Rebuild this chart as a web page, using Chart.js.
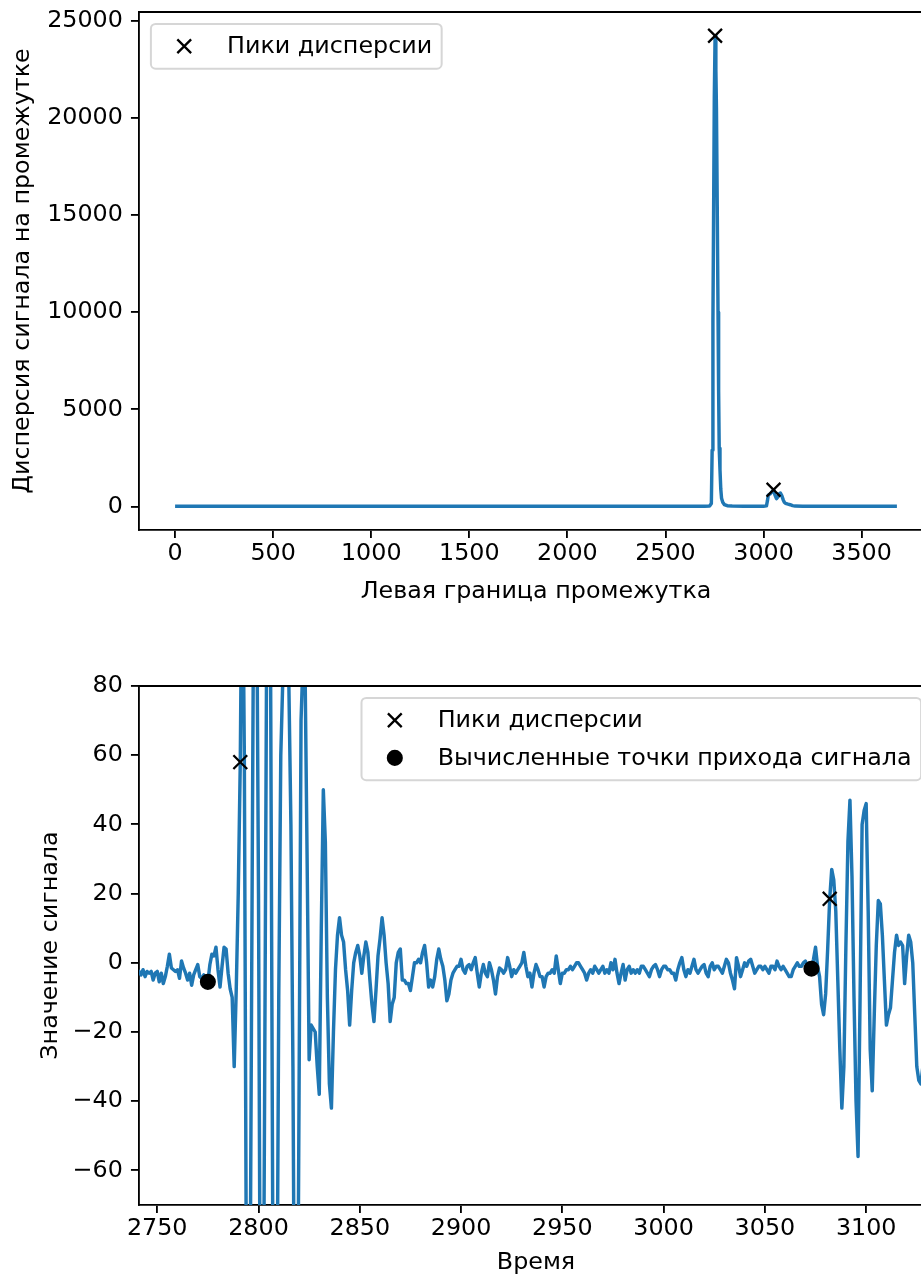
<!DOCTYPE html>
<html>
<head>
<meta charset="utf-8">
<script src="https://cdn.jsdelivr.net/npm/chart.js@4.4.1/dist/chart.umd.min.js"></script>
<style>
    html, body { margin: 0; padding: 0; background: #fff; }
    #page { position: relative; width: 921px; height: 1276px; overflow: hidden; background: #fff; }
    #page canvas { position: absolute; left: 0; display: block; }
    #varChart { top: 0; }
    #sigChart { top: 640px; }
</style>
</head>
<body>
<div id="page">
    <canvas id="varChart" width="940" height="640"></canvas>
    <canvas id="sigChart" width="940" height="640"></canvas>
</div>
<script>
"use strict"

// ---- top: variance of the signal over a sliding window ----
const varX = [0, 200, 400, 600, 800, 1000, 1200, 1400, 1600, 1800, 2000, 2200, 2400, 2600, 2700,
    2725, 2734, 2738, 2742, 2746, 2749, 2753, 2757, 2760, 2764, 2768, 2771, 2774, 2778, 2782, 2786,
    2792, 2800, 2815, 2840, 2900, 2950, 3000,
    3015, 3020, 3024, 3034, 3044, 3051, 3058, 3066, 3072, 3080, 3086, 3093, 3100, 3106, 3112, 3125,
    3136, 3148, 3161, 3200, 3300, 3450, 3600, 3680]
const varY = [12, 10, 14, 11, 13, 9, 12, 15, 10, 13, 11, 14, 12, 10, 15,
    20, 150, 2900, 9500, 16000, 21000, 24240, 22500, 20500, 15500, 10000, 6000, 3000, 1900, 900, 420,
    220, 100, 40, 25, 15, 12, 14,
    30, 300, 580, 650, 760, 860, 600, 400, 480, 650, 690, 560, 350, 220, 160, 120,
    90, 45, 20, 12, 10, 13, 11, 12]
const varPeakX = [2753, 3051]
const varPeakY = [24240, 860]
const varTicksX = [0, 500, 1000, 1500, 2000, 2500, 3000, 3500]
const varTicksY = [0, 5000, 10000, 15000, 20000, 25000]

// ---- bottom: the signal itself, one value per time step starting at sigStart ----
const sigStart = 2740
const sigY = [
    -3, -2.5, -3.5, -2, -4, -2.5, -3, -2.5, -5, -3,
    -2.5, -5.5, -3, -6, -4, -1, 2.5, -1.5, -2, -2.5,
    -2, -4.5, 0.5, -1.5, -3, -5, -3, -6.5, -3.5, -2,
    -0.5, -4, -4.5, -3.5, -6, -5.5, -0.5, 2.5, 2, 4.5,
    -2, -7, -1, 4.5, 4, -3, -7.5, -10, -30, -8,
    20, 58, 130, 60, -90, -150, -80, 40, 150, 120,
    20, -130, -160, -40, 90, 160, 80, -70, -170, -120,
    -10, 60, 82, 92, 90, 80, 40, -30, -140, -150,
    -40, 70, 88, 84, 30, -28, -18, -19, -20, -30,
    -38, 10, 50, 35, -10, -35, -42, -20, -2, 8,
    13, 8, 6, -2, -8, -18, -8, 0, 3, 5,
    2, -3, 2, 6, 3, -5, -12, -17, -8, 2,
    7, 13, 8, 0, -6, -17, -12, -10, 0, 3,
    4, -5, -5, -6, -6, -8, -4, 0, 0, 1,
    0, 3, 5, 0, -7, -5, -7, -4, 1, 4,
    1, -1, -5, -11, -9, -5, -3, -2, -1, -1,
    1, -2, -3, -1, -0.5, -2, 0, 1.5, -3, -7,
    -3, -0.5, -3, -4, 0, -2, -5, -9, -4, -1.5,
    -2, -3, -2, 1.5, -1, -4, -2, -3, -2, -1,
    0, 3, -1, -4, -3, -7, -3, -0.5, -2, -4,
    -4, -7, -4, -3, -3, -2, -3, 2, -2, -6,
    -3, -3, -2, -2, -1, -2, -1, 0, 0, -1,
    -2, -3, -5, -3, -2, -3, -1, -2, -3, -2,
    -1, -3, -2, -3, 0, -2, 1, -3, -6, -3,
    -0.5, -5, -2, -1, -3, -2, -3, -2, -3, -1,
    -1, -2, -3, -4, -2, -1, -0.5, -2, -4, -2,
    -1, -1, -2, -2, -3, -3, -5, -2, 0, 1.5,
    -2, -4, -2, -3, -1, 1, -2, -3, -2, -1,
    -0.5, -3, -4, -1, 0, -2, -1, -1, -2, -3,
    -1, 1, 0, -3, -5, -7.5, 1.5, -1, -4, -2,
    0, -1, 0.5, 1, -1, -3, -2, -1, -1, -2,
    -1, -2, -3, -1, -1, -2, 0.5, -1, -2, -1,
    -2, -3, -4, -4, -2, -1, 0, -1, -1, 0,
    0.5, -1, -1.5, -1.7, 1, 4.5, -1, -4, -12, -15,
    -9, 4, 18.5, 27, 24, 15, -5, -25, -42, -30,
    5, 35, 47, 25, -10, -40, -56, -10, 40, 44,
    46, 15, -25, -37, -15, 5, 18, 17, 8, -5,
    -18, -15, -13, -5, 3, 8, 5, 6, 5, -6,
    2, 8, 6, 0, -15, -30, -34, -35, -30, -22,
    -10, 2, 8, 5
]
const sigPeakX = [2791, 3082]
const sigPeakY = [58, 18.5]
const arrivalX = [2775, 3073]
const arrivalY = [-5.5, -1.7]
const sigTicksX = [2750, 2800, 2850, 2900, 2950, 3000, 3050, 3100]
const sigTicksY = [-60, -40, -20, 0, 20, 40, 60, 80]

// ---- look ----
const PT = 2.3            // pixels per typographic point in the reference
const BLUE = '#1f77b4'
const FONT = { family: 'DejaVu Sans', size: 23.8 }
const AXIS_LEFT = 139

Chart.defaults.font.family = FONT.family
Chart.defaults.color = '#000'

function toPoints(xs, ys) {
    return xs.map((x, i) => ({ x: x, y: ys[i] }))
}

function fmt(v) {
    return String(v).replace('-', '\u2212')
}

function xScale(min, max, ticks, title, height, titlePad) {
    return {
        type: 'linear',
        min: min,
        max: max,
        afterBuildTicks: s => { s.ticks = ticks.map(v => ({ value: v })) },
        afterFit: s => { s.height = height; s.paddingLeft = 0; s.paddingRight = 0 },
        ticks: { font: FONT, color: '#000', padding: 1.5, maxRotation: 0, autoSkip: false, callback: fmt },
        grid: { drawOnChartArea: false, color: '#000', tickLength: 3.5 * PT, lineWidth: 0.8 * PT },
        border: { color: '#000', width: 0.8 * PT },
        title: {
            display: true, text: title, color: '#000',
            font: { family: FONT.family, size: FONT.size, lineHeight: 1.2 },
            padding: { top: 0, bottom: titlePad }
        }
    }
}

function yScale(min, max, ticks, title, titlePad) {
    return {
        type: 'linear',
        min: min,
        max: max,
        afterBuildTicks: s => { s.ticks = ticks.map(v => ({ value: v })) },
        afterFit: s => { s.width = AXIS_LEFT; s.paddingTop = 0; s.paddingBottom = 0 },
        ticks: { font: FONT, color: '#000', padding: 3.5 * PT, autoSkip: false, callback: fmt },
        grid: { drawOnChartArea: false, color: '#000', tickLength: 3.5 * PT, lineWidth: 0.8 * PT },
        border: { color: '#000', width: 0.8 * PT },
        title: {
            display: true, text: title, color: '#000',
            font: { family: FONT.family, size: FONT.size, lineHeight: 1.2 },
            padding: { top: titlePad, bottom: 0 }
        }
    }
}

// top and right spines
const framePlugin = {
    id: 'frame',
    afterDraw(chart) {
        const { ctx, chartArea: a } = chart
        ctx.save()
        ctx.strokeStyle = '#000'
        ctx.lineWidth = 0.8 * PT
        ctx.beginPath()
        ctx.moveTo(a.left - 0.4 * PT, a.top)
        ctx.lineTo(a.right, a.top)
        ctx.lineTo(a.right, a.bottom + 0.4 * PT)
        ctx.stroke()
        ctx.restore()
    }
}

// legend in a rounded box inside the plot, the way the reference has it
const boxLegend = {
    id: 'boxLegend',
    afterDraw(chart, args, opts) {
        const items = chart.data.datasets.filter(d => d.inLegend)
        const { ctx, chartArea: area } = chart
        const em = FONT.size
        const pad = 0.4 * em, rowH = 1.08 * em, gap = 0.5 * em
        ctx.save()
        ctx.font = em + 'px "' + FONT.family + '"'
        const textW = Math.max(...items.map(d => ctx.measureText(d.label).width))
        const w = pad + 2.8 * em + textW + pad
        const h = 2 * pad + items.length * rowH + (items.length - 1) * gap
        const x0 = opts.side === 'right' ? area.right - 0.5 * em - w : area.left + 0.5 * em
        const y0 = area.top + 0.5 * em
        const r = 0.2 * em

        ctx.beginPath()
        ctx.moveTo(x0 + r, y0)
        ctx.arcTo(x0 + w, y0, x0 + w, y0 + h, r)
        ctx.arcTo(x0 + w, y0 + h, x0, y0 + h, r)
        ctx.arcTo(x0, y0 + h, x0, y0, r)
        ctx.arcTo(x0, y0, x0 + w, y0, r)
        ctx.closePath()
        ctx.fillStyle = 'rgba(255,255,255,0.8)'
        ctx.fill()
        ctx.lineWidth = 2
        ctx.strokeStyle = 'rgba(204,204,204,0.8)'
        ctx.stroke()

        items.forEach((d, i) => {
            const cy = y0 + pad + rowH / 2 + i * (rowH + gap)
            ctx.fillStyle = d.backgroundColor
            ctx.strokeStyle = d.borderColor
            ctx.lineWidth = d.borderWidth
            Chart.helpers.drawPoint(ctx, {
                pointStyle: d.pointStyle, radius: d.pointRadius, borderWidth: d.borderWidth, rotation: 0
            }, x0 + pad + em, cy)
            ctx.fillStyle = '#000'
            ctx.textAlign = 'left'
            ctx.textBaseline = 'middle'
            ctx.fillText(d.label, x0 + pad + 2.8 * em, cy + 1)
        })
        ctx.restore()
    }
}

function peaksDataset(xs, ys) {
    return {
        label: 'Пики дисперсии',
        inLegend: true,
        data: toPoints(xs, ys),
        showLine: false,
        pointStyle: 'crossRot',
        pointRadius: 3 * PT * Math.SQRT2,
        borderWidth: 1 * PT,
        borderColor: '#000',
        backgroundColor: '#000'
    }
}

function lineDataset(points) {
    return {
        label: 'signal',
        data: points,
        borderColor: BLUE,
        borderWidth: 1.5 * PT,
        borderJoinStyle: 'round',
        pointRadius: 0,
        tension: 0,
        clip: 0
    }
}

function baseOptions(padTop) {
    return {
        responsive: false,
        animation: false,
        events: [],
        layout: { autoPadding: false, padding: { left: 0, top: padTop, right: 7, bottom: 0 } },
        plugins: { legend: { display: false }, tooltip: { enabled: false } }
    }
}

function drawVarianceChart() {
    const options = baseOptions(12)
    options.plugins.boxLegend = { side: 'left' }
    options.scales = {
        x: xScale(-184, 3864, varTicksX, 'Левая граница промежутка', 110, 34),
        y: yScale(-1212, 25462, varTicksY, 'Дисперсия сигнала на промежутке', 9)
    }
    return new Chart(document.getElementById('varChart'), {
        type: 'line',
        data: {
            datasets: [
                peaksDataset(varPeakX, varPeakY),
                lineDataset(toPoints(varX, varY))
            ]
        },
        options: options,
        plugins: [framePlugin, boxLegend]
    })
}

function drawSignalChart() {
    const sigX = sigY.map((v, i) => sigStart + i)
    const options = baseOptions(46)
    options.plugins.boxLegend = { side: 'right' }
    options.scales = {
        x: xScale(2741, 3133, sigTicksX, 'Время', 75, 3),
        y: yScale(-70, 80, sigTicksY, 'Значение сигнала', 37)
    }
    return new Chart(document.getElementById('sigChart'), {
        type: 'line',
        data: {
            datasets: [
                peaksDataset(sigPeakX, sigPeakY),
                {
                    label: 'Вычисленные точки прихода сигнала',
                    inLegend: true,
                    data: toPoints(arrivalX, arrivalY),
                    showLine: false,
                    pointStyle: 'circle',
                    pointRadius: 3 * PT,
                    borderWidth: 1 * PT,
                    borderColor: '#000',
                    backgroundColor: '#000'
                },
                lineDataset(toPoints(sigX, sigY))
            ]
        },
        options: options,
        plugins: [framePlugin, boxLegend]
    })
}

drawVarianceChart()
drawSignalChart()
</script>
</body>
</html>
